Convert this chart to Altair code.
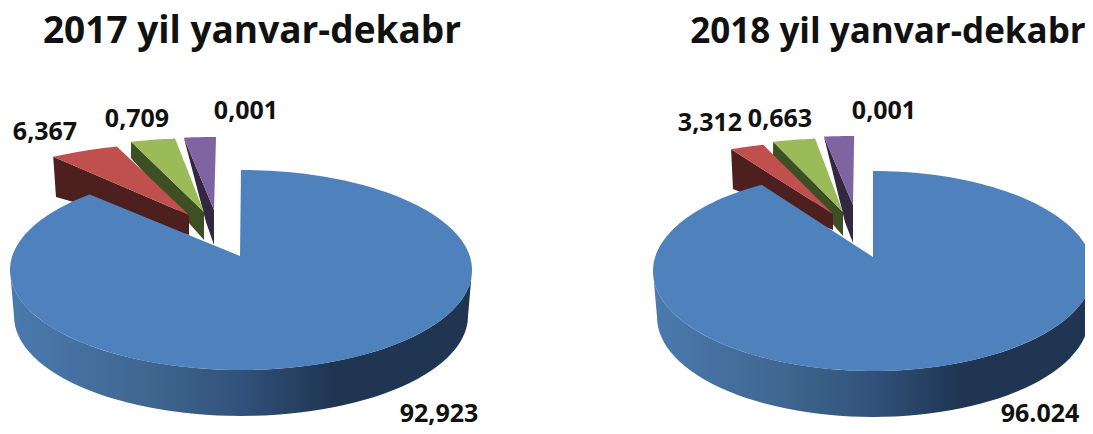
import math
import altair as alt
import pandas as pd

# Printed values and titles
titles = ["2017 yil yanvar-dekabr", "2018 yil yanvar-dekabr"]
labels_2017 = ["92,923", "6,367", "0,709", "0,001"]
labels_2018 = ["96.024", "3,312", "0,663", "0,001"]

# Angular extents as drawn in the picture (degrees, clockwise from 12 o'clock)
blue_sweep = [319.1, 329.6]
red_span = [(-36.0, -18.2), (-27.6, -18.5)]
green_span = [(-18.4, -7.2), (-18.5, -7.3)]
purple_span = [(-7.5, 0.5), (-7.6, 0.3)]

COLORS = dict(blue="#4f81bd", red="#c0504d", green="#9bbb59", purple="#8064a2")
DARK = dict(red="#4d1f1e", green="#3e4f24", purple="#332840")

# Layout of the two pies
PIES = [
    dict(cx=241, cy=270, rx=231, ry=100, depth=46, inset=4, apex=(240, 256),
         wedge_rx=231, wedge_ry=[72, 74, 73],
         red=((189, 215), (189, 235), (56, 197)),
         green=((204, 212), (204, 240), (131, 158)),
         purple=((214, 210), (214, 245), (206, 222))),
    dict(cx=873, cy=271, rx=220, ry=100, depth=46, inset=4, apex=(873, 257),
         wedge_rx=220, wedge_ry=[73, 74, 69],
         red=((833, 214), (833, 230), (733, 189)),
         green=((843, 212), (843, 236), (773, 155)),
         purple=((853, 205), (853, 243), (845, 222))),
]
TITLE_POS = [(252, 32, 37), (888, 32, 35)]
LABEL_POS = [
    [(439, 414), (45, 132), (137, 119), (246, 111)],
    [(1040, 414), (710, 123), (780, 119), (884, 111)],
]


def ell(cx, cy, a, b, deg):
    t = math.radians(deg)
    return cx + a * math.sin(t), cy - b * math.cos(t)


def arc(cx, cy, a, b, d0, d1, n=60):
    return [ell(cx, cy, a, b, d0 + (d1 - d0) * i / n) for i in range(n + 1)]


rows = []
side_rows = []
seq = 0


def add(points, color):
    global seq
    seq += 1
    for i, (x, y) in enumerate(points):
        rows.append(dict(id=seq, i=i, x=x, y=y, c=color))


for k, p in enumerate(PIES):
    for name, span, ry in (("purple", purple_span[k], p["wedge_ry"][2]),
                           ("green", green_span[k], p["wedge_ry"][1]),
                           ("red", red_span[k], p["wedge_ry"][0])):
        apex, low_apex, low_out = p[name]
        rim = arc(apex[0], apex[1], p["wedge_rx"], ry, span[0], span[1], 12)
        add([rim[0], apex, low_apex, low_out], DARK[name])
        add([apex] + rim, COLORS[name])
    # side wall of the big slice
    top = arc(p["cx"], p["cy"], p["rx"], p["ry"], 90, 270)
    bot = arc(p["cx"], p["cy"] + p["depth"], p["rx"] - p["inset"], p["ry"], 270, 90)
    for i, (x, y) in enumerate(top + bot):
        side_rows.append(dict(id=k, i=i, x=x, y=y))
    add([p["apex"]] + arc(p["cx"], p["cy"], p["rx"], p["ry"], 0, blue_sweep[k], 180), COLORS["blue"])

W, H = 1077, 418
xs = alt.Scale(domain=[8, 8 + W], range=[0, W])
ys = alt.Scale(domain=[8 + H, 8], range=[H, 0])
X = alt.X("x:Q", scale=xs, axis=None)
Y = alt.Y("y:Q", scale=ys, axis=None)

side_stops = [
    alt.GradientStop(offset=0.0, color="#4a7aaf"),
    alt.GradientStop(offset=0.30, color="#3f668f"),
    alt.GradientStop(offset=0.50, color="#31527a"),
    alt.GradientStop(offset=0.70, color="#1f3552"),
    alt.GradientStop(offset=1.0, color="#1f3552"),
]
grad = alt.Gradient(gradient="linear", stops=side_stops, x1=0, x2=1, y1=0, y2=0)

sides = pd.DataFrame(side_rows)
side_layers = [
    alt.Chart(sides[sides.id == k]).mark_line(fill=grad, strokeOpacity=0)
    .encode(x=X, y=Y, order="i:Q")
    for k in range(2)
]

polys = pd.DataFrame(rows)
first = polys[polys.c != COLORS["blue"]]
tops = polys[polys.c == COLORS["blue"]]


def poly_layer(df):
    return alt.Chart(df).mark_line(filled=True, strokeOpacity=0).encode(
        x=X, y=Y, detail="id:N", order="i:Q",
        color=alt.Color("c:N", scale=None),
    )


title_df = pd.DataFrame(dict(t=titles, x=[q[0] for q in TITLE_POS], y=[q[1] for q in TITLE_POS],
                             s=[q[2] for q in TITLE_POS]))
title_layer = alt.Chart(title_df).mark_text(
    font="Open Sans", fontWeight="bold", color="#111111", align="center", baseline="middle"
).encode(x=X, y=Y, text="t:N", size=alt.Size("s:Q", scale=None))

lab_df = pd.DataFrame([
    dict(t=t, x=pos[0], y=pos[1])
    for ts, ps in zip((labels_2017, labels_2018), LABEL_POS)
    for t, pos in zip(ts, ps)
])
label_layer = alt.Chart(lab_df).mark_text(
    font="Open Sans", fontWeight="bold", fontSize=25, color="#111111", align="center", baseline="middle"
).encode(x=X, y=Y, text="t:N")

chart = alt.layer(
    poly_layer(first), *side_layers, poly_layer(tops), title_layer, label_layer
).properties(width=W, height=H, padding=0, autosize=alt.AutoSizeParams(type="none")).configure_view(stroke=None)

chart.save("out.html", embed_options={"renderer": "svg", "actions": False})
